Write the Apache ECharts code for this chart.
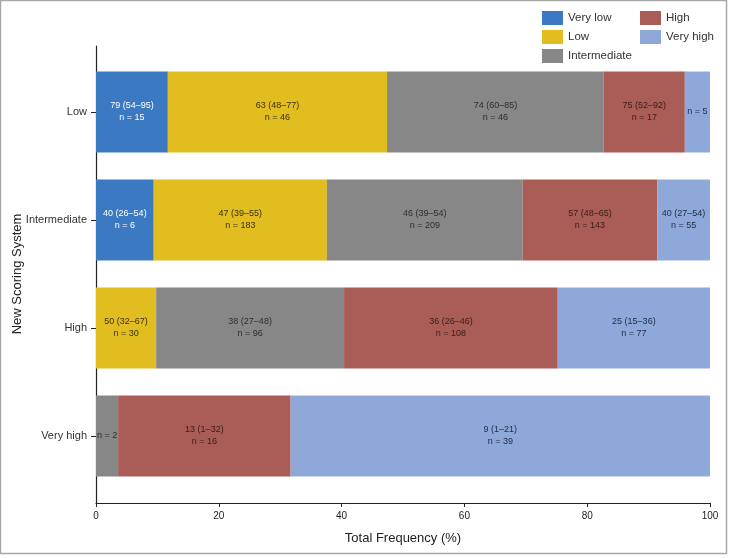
<!DOCTYPE html>
<html>
<head>
<meta charset="utf-8">
<script src="https://cdn.jsdelivr.net/npm/echarts@6/dist/echarts.min.js"></script>
<style>
html, body { margin: 0; padding: 0; background: #fff; }
#main { width: 731px; height: 558px; }
</style>
</head>
<body>
<div id="main"></div>
<script>
// rows of the new scoring system, top to bottom
var categories = ['Low', 'Intermediate', 'High', 'Very high'];
var seriesNames = ['Very low', 'Low', 'Intermediate', 'High', 'Very high'];
var colors = ['#3b79c3', '#e1bd1f', '#878787', '#a95d56', '#8ea9d9'];

// total frequency (%) per segment
var veryLowPct     = [11.7, 9.4, 0, 0];
var lowPct         = [35.7, 28.2, 9.8, 0];
var intermediatePct= [35.3, 31.9, 30.6, 3.6];
var highPct        = [13.2, 21.9, 34.8, 28.1];
var veryHighPct    = [4.1, 8.6, 24.8, 68.3];

// text written in the segments
var veryLowText     = ['79 (54–95)', '40 (26–54)', '', ''];
var veryLowN        = ['15', '6', '', ''];
var lowText         = ['63 (48–77)', '47 (39–55)', '50 (32–67)', ''];
var lowN            = ['46', '183', '30', ''];
var intermediateText= ['74 (60–85)', '46 (39–54)', '38 (27–48)', ''];
var intermediateN   = ['46', '209', '96', '2'];
var highText        = ['75 (52–92)', '57 (48–65)', '36 (26–46)', '13 (1–32)'];
var highN           = ['17', '143', '108', '16'];
var veryHighText    = ['', '40 (27–54)', '25 (15–36)', '9 (1–21)'];
var veryHighN       = ['5', '55', '77', '39'];

var allPct = [veryLowPct, lowPct, intermediatePct, highPct, veryHighPct];
var allText = [veryLowText, lowText, intermediateText, highText, veryHighText];
var allN = [veryLowN, lowN, intermediateN, highN, veryHighN];
var labelColors = ['#ffffff', '#3a3210', '#2e2e2e', '#3a1c1a', '#1e2a44'];

var font = '"Liberation Sans", Arial, sans-serif';

var chart = echarts.init(document.getElementById('main'));

var series = [];
for (var s = 0; s < seriesNames.length; s++) {
	(function (s) {
		series.push({
			name: seriesNames[s],
			type: 'bar',
			stack: 'total',
			xAxisIndex: 0,
			yAxisIndex: 0,
			barWidth: '75%',
			itemStyle: { color: colors[s] },
			label: {
				show: true,
				position: 'inside',
				fontFamily: font,
				fontSize: 9,
				lineHeight: 12,
				color: labelColors[s],
				formatter: function (p) {
					var t = allText[s][p.dataIndex];
					var n = allN[s][p.dataIndex];
					if (!n) return '';
					if (!t) return 'n = ' + n;
					return t + '\nn = ' + n;
				}
			},
			data: allPct[s].map(function (v) { return v > 0 ? v : null; })
		});
	})(s);
}

var option = {
	animation: false,
	backgroundColor: '#ffffff',
	textStyle: { fontFamily: font },
	graphic: [{
		type: 'rect',
		shape: { x: 0.5, y: 0.5, width: 726, height: 553 },
		style: { fill: 'none', stroke: '#a8a8a8', lineWidth: 1.5 },
		z: -1
	}],
	legend: [{
		orient: 'vertical',
		left: 537,
		top: 6,
		itemWidth: 21,
		itemHeight: 14,
		itemGap: 5,
		icon: 'rect',
		textStyle: { fontSize: 11.5, color: '#333', fontFamily: font },
		data: ['Very low', 'Low', 'Intermediate']
	}, {
		orient: 'vertical',
		left: 635,
		top: 6,
		itemWidth: 21,
		itemHeight: 14,
		itemGap: 5,
		icon: 'rect',
		textStyle: { fontSize: 11.5, color: '#333', fontFamily: font },
		data: ['High', 'Very high']
	}],
	grid: [
		{ left: 96, right: 21, top: 58, bottom: 68, outerBoundsMode: 'none', containLabel: false },
		{ left: 96, right: 21, top: 46, bottom: 55, outerBoundsMode: 'none', containLabel: false }
	],
	xAxis: [{
		gridIndex: 0,
		type: 'value',
		min: 0,
		max: 100,
		show: false
	}, {
		gridIndex: 1,
		type: 'value',
		min: 0,
		max: 100,
		interval: 20,
		name: 'Total Frequency (%)',
		nameLocation: 'middle',
		nameGap: 29,
		nameMoveOverlap: false,
		nameTextStyle: { fontSize: 13, color: '#222', fontFamily: font },
		axisLine: { lineStyle: { color: '#222', width: 1.2 } },
		axisTick: { show: true, length: 4, lineStyle: { color: '#222' } },
		axisLabel: { fontSize: 10, color: '#222', margin: 8 },
		splitLine: { show: false }
	}],
	yAxis: [{
		gridIndex: 0,
		type: 'category',
		inverse: true,
		data: categories,
		name: 'New Scoring System',
		nameLocation: 'middle',
		nameGap: 72,
		nameMoveOverlap: false,
		nameRotate: 90,
		nameTextStyle: { fontSize: 13, color: '#222', fontFamily: font },
		axisLine: { show: false },
		axisTick: { show: true, alignWithLabel: true, length: 5, lineStyle: { color: '#222' } },
		axisLabel: { fontSize: 11, color: '#333', margin: 9 }
	}, {
		gridIndex: 1,
		type: 'value',
		min: 0,
		max: 1,
		axisLine: { show: true, lineStyle: { color: '#222', width: 1.2 } },
		axisTick: { show: false },
		axisLabel: { show: false },
		splitLine: { show: false }
	}],
	series: series
};

chart.setOption(option);
</script>
</body>
</html>
